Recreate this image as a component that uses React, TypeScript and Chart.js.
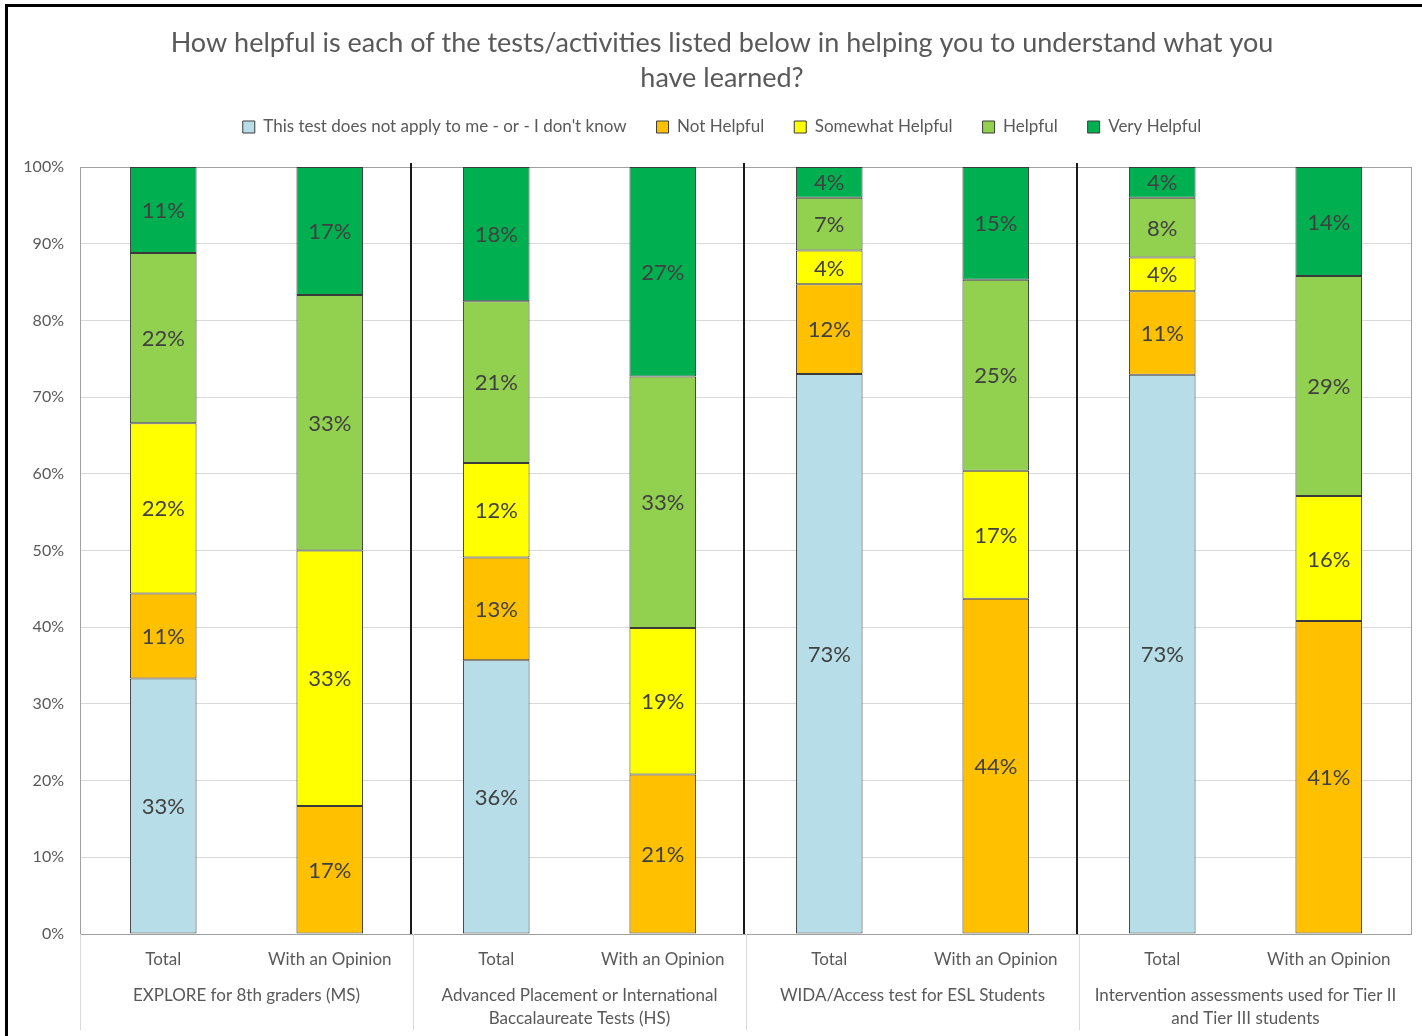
import React, { useEffect, useRef } from "react";
import { Chart, registerables } from "chart.js";

Chart.register(...registerables);

const FONT = "Lato, 'Open Sans', sans-serif";

const titleLines = [
  "How helpful is each of the tests/activities listed below in helping you to understand what you",
  "have learned?",
];

const categories = [
  "Total", "With an Opinion",
  "Total", "With an Opinion",
  "Total", "With an Opinion",
  "Total", "With an Opinion",
];

const groupLabels = [
  ["EXPLORE for 8th graders (MS)"],
  ["Advanced Placement or International", "Baccalaureate Tests (HS)"],
  ["WIDA/Access test for ESL Students"],
  ["Intervention assessments used for Tier II", "and Tier III students"],
];

const seriesNames = [
  "This test does not apply to me - or - I don't know",
  "Not Helpful",
  "Somewhat Helpful",
  "Helpful",
  "Very Helpful",
];

const notApply = [33.3, 0, 35.7, 0, 73.0, 0, 72.9, 0];
const notHelpful = [11.1, 16.7, 13.4, 20.8, 11.7, 43.7, 10.9, 40.8];
const somewhatHelpful = [22.2, 33.3, 12.3, 19.1, 4.4, 16.7, 4.4, 16.3];
const helpful = [22.2, 33.3, 21.1, 32.8, 6.9, 24.9, 7.8, 28.7];
const veryHelpful = [11.2, 16.7, 17.5, 27.3, 4.0, 14.7, 4.0, 14.2];

const seriesValues = [notApply, notHelpful, somewhatHelpful, helpful, veryHelpful];
const seriesColors = ["#b7dee8", "#ffc000", "#ffff00", "#92d050", "#00b050"];

const yMin = 0;
const yMax = 100;
const yStep = 10;

const legendSpacer = {
  id: "legendSpacer",
  beforeLayout(chart: any) {
    const lg = chart.legend;
    if (lg && !lg.__patched) {
      const orig = lg.fit;
      lg.fit = function () {
        orig.call(this);
        this.height += 21.5;
      };
      lg.__patched = true;
    }
  },
  afterLayout(chart: any) {
    // let the y tick labels use the space left of the layout padding
    const ys = chart.scales.y;
    if (ys) ys.left = 0;
  },
};

const plotFrame = {
  id: "plotFrame",
  beforeDatasetsDraw(chart: any) {
    const { ctx, chartArea: a } = chart;
    ctx.save();
    ctx.strokeStyle = "#a0a0a0";
    ctx.lineWidth = 1;
    ctx.strokeRect(a.left + 0.5, a.top + 0.5, a.right - a.left - 1, a.bottom - a.top);
    ctx.restore();
  },
};

const dataLabels = {
  id: "dataLabels",
  afterDatasetsDraw(chart: any) {
    const { ctx } = chart;
    ctx.save();
    ctx.font = `22px ${FONT}`;
    ctx.fillStyle = "#404040";
    ctx.textAlign = "center";
    ctx.textBaseline = "middle";
    chart.data.datasets.forEach((ds: any, di: number) => {
      const meta = chart.getDatasetMeta(di);
      meta.data.forEach((bar: any, i: number) => {
        const v = ds.data[i];
        if (!v) return;
        const p = bar.getProps(["x", "y", "base"], true);
        ctx.fillText(Math.round(v) + "%", p.x, (p.y + p.base) / 2 + 1);
      });
    });
    ctx.restore();
  },
};

const groupAxis = {
  id: "groupAxis",
  afterDraw(chart: any) {
    const { ctx, chartArea: a } = chart;
    const xs = chart.scales.x;
    ctx.save();
    // light separators in label area
    ctx.strokeStyle = "#d9d9d9";
    ctx.lineWidth = 1;
    for (let g = 0; g < groupLabels.length; g++) {
      const px = Math.round(xs.getPixelForValue(g * 2 - 0.5)) + 0.5;
      ctx.beginPath();
      ctx.moveTo(px, a.bottom);
      ctx.lineTo(px, a.bottom + 96);
      ctx.stroke();
    }
    // black group separators inside plot
    ctx.strokeStyle = "#1a1a1a";
    ctx.lineWidth = 2;
    for (let g = 1; g < groupLabels.length; g++) {
      const px = Math.round(xs.getPixelForValue(g * 2 - 0.5)) - 2;
      ctx.beginPath();
      ctx.moveTo(px, a.top - 4);
      ctx.lineTo(px, a.bottom);
      ctx.stroke();
    }
    // group labels
    ctx.font = `17px ${FONT}`;
    ctx.fillStyle = "#595959";
    ctx.textAlign = "center";
    ctx.textBaseline = "middle";
    groupLabels.forEach((lines, g) => {
      const cx = xs.getPixelForValue(g * 2 + 0.5);
      lines.forEach((t, li) => {
        ctx.fillText(t, cx, a.bottom + 62 + li * 23);
      });
    });
    ctx.restore();
  },
};

function App() {
  const ref = useRef<HTMLCanvasElement | null>(null);

  useEffect(() => {
    if (!ref.current) return;
    const chart = new Chart(ref.current, {
      type: "bar",
      data: {
        labels: categories,
        datasets: seriesNames.map((name, i) => ({
          label: name,
          data: seriesValues[i],
          backgroundColor: seriesColors[i],
          borderColor: "#3a3a3a",
          borderWidth: 1,
          borderSkipped: false,
          barPercentage: 0.4,
          categoryPercentage: 1,
        })),
      },
      options: {
        animation: false,
        responsive: false,
        devicePixelRatio: 1,
        layout: { padding: { left: 32, right: 10, top: 0, bottom: 0 } },
        font: { family: FONT },
        scales: {
          x: {
            stacked: true,
            grid: { display: false },
            border: { display: false },
            ticks: {
              color: "#595959",
              font: { family: FONT, size: 17 },
              padding: 7,
              maxRotation: 0,
              autoSkip: false,
            },
            afterFit: (s: any) => {
              s.height = 102;
            },
          },
          y: {
            stacked: true,
            min: yMin,
            max: yMax,
            border: { display: false },
            grid: { color: "#d9d9d9", drawTicks: false },
            ticks: {
              stepSize: yStep,
              color: "#595959",
              font: { family: FONT, size: 16 },
              padding: 16,
              callback: (v: any) => v + "%",
            },
            afterFit: (s: any) => {
              s.width = 48;
            },
          },
        },
        plugins: {
          title: {
            display: true,
            text: titleLines,
            color: "#595959",
            font: { family: FONT, size: 27, weight: "normal", lineHeight: 35 / 27 },
            padding: { top: 25.5, bottom: -7 },
          },
          legend: {
            display: true,
            position: "top",
            labels: {
              boxWidth: 12,
              boxHeight: 12,
              color: "#595959",
              font: { family: FONT, size: 17 },
              padding: 30,
            },
          },
          tooltip: { enabled: false },
        },
      } as any,
      plugins: [legendSpacer, plotFrame, dataLabels, groupAxis],
    });
    return () => chart.destroy();
  }, []);

  return (
    <div
      style={{
        position: "fixed",
        left: 0,
        top: 0,
        width: 1422,
        height: 1036,
        overflow: "hidden",
        background: "#ffffff",
      }}
    >
      <canvas
        ref={ref}
        width={1422}
        height={1036}
        style={{ position: "absolute", left: 0, top: 0, width: 1422, height: 1036 }}
      />
      <div
        style={{
          position: "absolute",
          left: 5,
          top: 4,
          width: 1500,
          height: 1100,
          border: "3px solid #000",
          pointerEvents: "none",
        }}
      />
    </div>
  );
}

export default App;
